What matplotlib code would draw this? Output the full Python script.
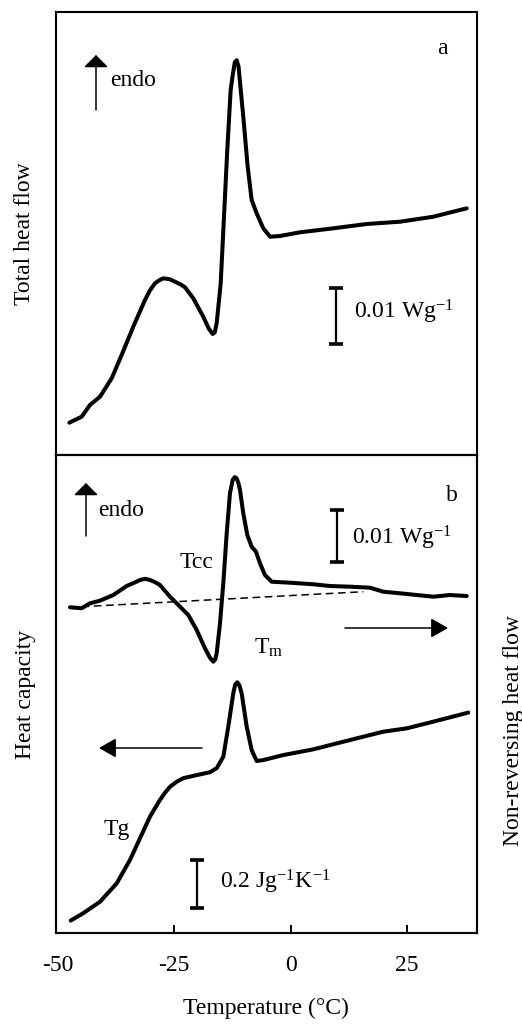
import matplotlib
matplotlib.use("Agg")
import matplotlib.pyplot as plt

plt.rcParams['font.family'] = ['Liberation Serif', 'DejaVu Serif']
plt.rcParams['mathtext.fontset'] = 'custom'
plt.rcParams['mathtext.rm'] = 'Liberation Serif'
plt.rcParams['mathtext.it'] = 'Liberation Serif:italic'

# ---------------- data ----------------
# Panel a: total heat flow (mW/g, arbitrary offset)
temp_a = [-47.5, -44.85, -43.07, -40.92, -38.41, -36.27, -33.78, -31.27, -30.2, -29.12,
          -28.2, -27.34, -26.0, -24.83, -23.7, -22.68, -20.90, -18.76, -17.6, -16.74,
          -16.3, -15.88, -15.02, -14.31, -13.61, -12.88, -12.45, -12.0, -11.6, -11.2,
          -10.17, -9.23, -8.37, -7.30, -5.88, -4.44, -2.30, 2.00, 9.14, 16.31, 23.45,
          30.60, 33.48, 37.77]
total_heat_flow = [5.77, 6.84, 8.93, 10.41, 13.70, 17.86, 22.91, 27.68, 29.4, 30.66,
                   31.2, 31.55, 31.4, 30.95, 30.5, 29.95, 27.98, 24.70, 22.6, 21.61,
                   21.9, 23.52, 30.66, 42.55, 54.46, 65.18, 67.8, 70.1, 70.5, 69.4,
                   60.41, 51.48, 45.54, 43.16, 40.48, 38.98, 39.11, 39.77, 40.48,
                   41.25, 41.66, 42.55, 43.16, 44.05]

# Panel b: non-reversing heat flow (mW/g, arbitrary offset)
temp_nr = [-47.36, -44.85, -43.07, -40.92, -38.07, -35.19, -33.3, -32.34, -31.2, -30.19,
           -29.1, -28.05, -25.90, -23.75, -21.97, -20.17, -18.39, -17.3, -16.61, -16.2,
           -15.88, -15.17, -14.46, -13.73, -13.03, -12.45, -12.0, -11.59, -11.2, -10.88,
           -10.17, -9.31, -8.37, -7.45, -6.59, -5.52, -4.08, -0.15, 4.85, 8.43, 12.73,
           17.02, 19.87, 23.45, 27.04, 30.60, 34.18, 37.77]
nonrev_heat_flow = [62.16, 61.97, 62.92, 63.42, 64.50, 66.22, 66.95, 67.37, 67.6, 67.37,
                    66.95, 66.41, 64.18, 62.27, 60.69, 57.82, 54.33, 52.5, 51.77, 52.2,
                    53.38, 59.10, 66.74, 76.28, 83.91, 86.45, 87.0, 86.77, 85.8, 84.54,
                    80.10, 75.95, 73.72, 72.77, 70.55, 68.32, 67.04, 66.85, 66.55, 66.22,
                    66.09, 65.90, 65.13, 64.83, 64.50, 64.18, 64.50, 64.31]
baseline_temp = [-44.85, 15.58]
baseline_val = [62.27, 65.13]

# Panel b: heat capacity (J/g/K, arbitrary offset)
temp_cp = [-47.21, -44.51, -40.92, -37.34, -34.49, -32.34, -30.19, -28.05, -26.9, -25.90,
           -24.4, -23.05, -20.17, -17.32, -15.88, -14.46, -13.39, -12.32, -11.9, -11.46,
           -11.0, -10.52, -9.44, -8.37, -7.30, -5.88, -1.59, 4.85, 12.73, 19.87, 24.89,
           30.60, 38.11]
heat_capacity = [0.052, 0.083, 0.131, 0.208, 0.306, 0.397, 0.488, 0.558, 0.590, 0.613,
                 0.635, 0.649, 0.662, 0.674, 0.691, 0.739, 0.865, 1.005, 1.042, 1.051,
                 1.038, 1.005, 0.865, 0.767, 0.721, 0.725, 0.746, 0.770, 0.809, 0.844,
                 0.858, 0.886, 0.924]

x_ticks = [-50, -25, 0, 25]
x_ticklabels = ['-50', '-25', '0', '25']

# scale bars: (temperature, bottom, height)
bar_a = (9.7, 19.8, 10.0)        # 0.01 W/g
bar_nr = (9.87, 70.8, 10.0)      # 0.01 W/g
bar_cp = (-20.04, 0.105, 0.2)    # 0.2 J/g/K

# ---------------- figure ----------------
W_PX, H_PX = 522, 1028
fig = plt.figure(figsize=(W_PX / 100, H_PX / 100), dpi=100)


def P(x, y):
    return (x / W_PX, 1 - y / H_PX)


left, right = 56 / W_PX, 477 / W_PX
ax_a = fig.add_axes([left, 1 - 455 / H_PX, right - left, (455 - 12) / H_PX])
ax_b = fig.add_axes([left, 1 - 933 / H_PX, right - left, (933 - 455) / H_PX])
ax_b2 = ax_b.twinx()

FS = 17
CURVE = dict(color='black', lw=2.9, solid_capstyle='round', solid_joinstyle='round')

ax_a.plot(temp_a, total_heat_flow, **CURVE)
ax_b2.plot(temp_nr, nonrev_heat_flow, **CURVE)
ax_b2.plot(baseline_temp, baseline_val, color='black', lw=1.1, ls=(0, (5, 3)))
ax_b.plot(temp_cp, heat_capacity, **CURVE)

xlim = (-50.36, 39.98)
for ax in (ax_a, ax_b, ax_b2):
    ax.set_xlim(*xlim)
    for s in ax.spines.values():
        s.set_linewidth(1.5)
ax_a.set_ylim(0, 79.11)
ax_b2.set_ylim(0, 91.22)
ax_b.set_ylim(0, 2.004)

ax_a.set_xticks([])
ax_a.set_yticks([])
ax_b.set_yticks([])
ax_b2.set_yticks([])
ax_b.set_xticks(x_ticks)
ax_b.set_xticklabels(x_ticklabels)
ax_b.tick_params(axis='x', direction='in', length=6, width=1.4, pad=16, labelsize=FS)
ax_b.xaxis.get_major_ticks()[0].tick1line.set_visible(False)


def scale_bar(ax, bar):
    t, y0, h = bar
    ax.plot([t, t], [y0, y0 + h], color='black', lw=1.6, marker='_', ms=10, mew=2.6)


scale_bar(ax_a, bar_a)
scale_bar(ax_b2, bar_nr)
scale_bar(ax_b, bar_cp)

TK = dict(transform=fig.transFigure, fontsize=FS, color='black')


def arrow(p0, p1, hl, hw, lw=1.1):
    fig.add_artist(matplotlib.patches.FancyArrowPatch(
        P(*p0), P(*p1), transform=fig.transFigure,
        arrowstyle=f'-|>,head_length={hl},head_width={hw}', mutation_scale=15,
        color='black', lw=lw, shrinkA=0, shrinkB=0))


# panel a annotations
arrow((96, 110), (96, 55), 0.5, 0.5)
fig.text(*P(110, 80), 'endo', ha='left', va='center', **TK)
fig.text(*P(442, 48), 'a', ha='center', va='center', **TK)
fig.text(*P(354, 312), r'0.01 Wg$^{\mathrm{-1}}$', ha='left', va='center', **TK)

# panel b annotations
arrow((86, 536), (86, 483), 0.5, 0.5)
fig.text(*P(98, 510), 'endo', ha='left', va='center', **TK)
fig.text(*P(452, 495), 'b', ha='center', va='center', **TK)
fig.text(*P(352, 538), r'0.01 Wg$^{\mathrm{-1}}$', ha='left', va='center', **TK)
fig.text(*P(197, 563), 'Tcc', ha='center', va='center', **TK)
fig.text(*P(269, 648), r'T$_{\mathrm{m}}$', ha='center', va='center', **TK)
arrow((345, 628), (448, 628), 0.7, 0.4)
arrow((202, 748), (99, 748), 0.7, 0.4)
fig.text(*P(117, 830), 'Tg', ha='center', va='center', **TK)
fig.text(*P(220, 882), r'0.2 Jg$^{\mathrm{-1}}$K$^{\mathrm{-1}}$', ha='left', va='center', **TK)

# axis labels
fig.text(*P(25, 234), 'Total heat flow', rotation=90, ha='center', va='center', **TK)
fig.text(*P(25, 694), 'Heat capacity', rotation=90, ha='center', va='center', **TK)
fig.text(*P(513, 731), 'Non-reversing heat flow', rotation=90, ha='center', va='center', **TK)
fig.text(*P(266, 1008), 'Temperature (°C)', ha='center', va='center', **TK)

fig.savefig('out.png', dpi=100)
